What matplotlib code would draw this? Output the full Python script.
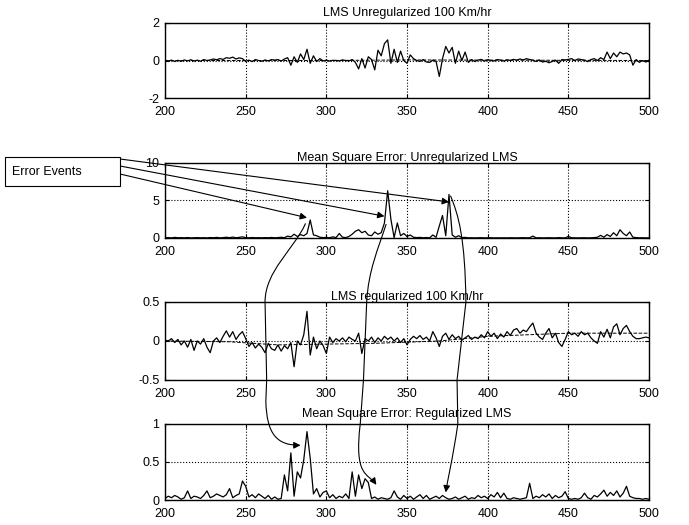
import numpy as np
import matplotlib
matplotlib.use('Agg')
from matplotlib import pyplot as plt
from matplotlib.path import Path
from matplotlib.patches import FancyArrowPatch, Rectangle
from matplotlib.ticker import FormatStrFormatter

plt.rcParams['font.family'] = ['Liberation Sans', 'DejaVu Sans']
plt.rcParams['font.size'] = 9
plt.rcParams['axes.unicode_minus'] = False

# sample index, every second step from 200 to 500
n = np.arange(200, 501, 2)

lms_unreg = [
    0.0, -0.03, 0.02, -0.05, 0.01,
    -0.04, 0.03, -0.02, 0.04, -0.03,
    0.02, -0.04, 0.05, 0.0, 0.03,
    0.08, 0.04, 0.1, 0.06, 0.15,
    0.12, 0.18, 0.08, 0.14, 0.1,
    -0.05, 0.02, -0.06, 0.05, 0.0,
    -0.04, 0.03, -0.02, 0.05, 0.02,
    0.05, -0.03, 0.08, 0.15, -0.25,
    0.2, -0.1, 0.35, 0.05, 0.6,
    -0.15, 0.25, -0.05, 0.1, -0.02,
    0.02, -0.03, 0.01, 0.0, -0.02,
    0.03, 0.0, -0.02, 0.05, -0.1,
    -0.45, 0.1, -0.4, 0.2, 0.05,
    -0.5, 0.55, 0.25, 0.9, 1.1,
    -0.15, 0.6, -0.1, 0.5, 0.0,
    -0.15, 0.3, 0.1, 0.0, -0.05,
    0.05, -0.08, -0.1, 0.02, -0.05,
    -0.85, 0.1, 0.75, 0.4, 0.7,
    -0.15, 0.5, 0.0, 0.45, -0.1,
    0.05, -0.05, 0.02, 0.06, -0.03,
    0.04, 0.0, -0.02, 0.05, 0.02,
    -0.03, 0.04, 0.0, 0.06, 0.02,
    0.08, 0.03, 0.1, 0.05, 0.02,
    -0.05, 0.03, -0.08, -0.04, -0.12,
    -0.05, 0.02, -0.15, 0.05, 0.03,
    0.06, 0.1, 0.0, 0.08, 0.05,
    0.02, -0.06, 0.05, 0.1, 0.0,
    0.15, 0.05, 0.45, 0.1, 0.4,
    0.2, 0.45, 0.35, 0.4, 0.3,
    -0.25, 0.05, -0.1, 0.0, -0.08,
    0.02,
]

mse_unreg = [
    0.02, 0.05, 0.01, 0.08, 0.03,
    0.04, 0.02, 0.06, 0.01, 0.03,
    0.05, 0.02, 0.04, 0.01, 0.06,
    0.03, 0.08, 0.02, 0.05, 0.1,
    0.04, 0.12, 0.03, 0.08, 0.15,
    0.05, 0.02, 0.06, 0.03, 0.04,
    0.02, 0.05, 0.03, 0.07, 0.02,
    0.05, 0.1, 0.03, 0.25, 0.15,
    0.5, 0.2, 0.45, 0.3, 0.6,
    2.4, 0.4, 0.3, 0.1, 0.05,
    0.08, 0.03, 0.15, 0.05, 0.6,
    0.1, 0.05, 0.2, 0.5, 0.9,
    1.1, 0.7, 0.9, 0.4, 0.3,
    0.8, 0.5, 0.7, 2.0, 6.3,
    2.5, 0.05, 2.0, 0.3, 0.6,
    0.2, 0.4, 0.1, 0.05, 0.08,
    0.03, 0.06, 0.02, 0.4, 0.1,
    1.6, 3.0, 0.3, 5.8, 0.4,
    0.1, 0.3, 0.05, 0.08, 0.02,
    0.03, 0.01, 0.02, 0.04, 0.01,
    0.02, 0.03, 0.01, 0.02, 0.01,
    0.02, 0.01, 0.03, 0.02, 0.01,
    0.02, 0.04, 0.02, 0.03, 0.25,
    0.02, 0.03, 0.01, 0.02, 0.03,
    0.02, 0.01, 0.05, 0.02, 0.01,
    0.2, 0.03, 0.02, 0.01, 0.02,
    0.03, 0.01, 0.02, 0.05, 0.1,
    0.35, 0.1, 0.45, 0.2, 0.7,
    0.3, 1.1, 0.6, 0.3, 0.8,
    0.1, 0.05, 0.02, 0.03, 0.01,
    0.02,
]

lms_reg = [
    0.01, 0.0, 0.03, -0.02, 0.02,
    -0.05, 0.0, -0.08, 0.02, -0.12,
    0.0, -0.04, 0.03, -0.08, -0.15,
    0.0, 0.04, -0.02, 0.06, 0.13,
    0.05, 0.12, 0.02, 0.08, 0.12,
    0.03, -0.07, -0.02, -0.09, -0.04,
    -0.08, -0.15, -0.03, -0.1, -0.12,
    -0.05, -0.13, -0.06, -0.1, -0.02,
    -0.33, 0.0, -0.05, 0.08, 0.38,
    -0.18, 0.05, -0.1, 0.0, -0.06,
    -0.16, 0.05, -0.02, 0.03, 0.0,
    0.04, -0.01, 0.05, 0.02, 0.0,
    0.1, -0.16, 0.03, 0.0, 0.05,
    -0.02, 0.04, 0.0, 0.06, 0.02,
    0.05, 0.0, 0.04, -0.02, 0.03,
    -0.05, 0.02, 0.06, 0.03, 0.07,
    0.02, 0.05, 0.0, 0.12, 0.04,
    -0.07, 0.06, 0.1, 0.02, 0.08,
    0.03, 0.06, 0.01, 0.04, 0.07,
    0.02, 0.05, 0.03, 0.08, 0.04,
    0.12, 0.06, 0.1, 0.03, 0.09,
    0.05, 0.12, 0.07, 0.14, 0.16,
    0.1, 0.14, 0.12, 0.18, 0.23,
    0.1, 0.05, 0.02, 0.1, 0.16,
    0.04, 0.1, -0.02, -0.07, 0.02,
    0.12, 0.08, 0.1, 0.06, 0.12,
    0.08, 0.1, 0.04, 0.0, -0.03,
    0.12, 0.05, 0.15, 0.04, 0.18,
    0.22, 0.08, 0.16, 0.2, 0.12,
    0.06, 0.03, 0.03, 0.04, 0.05,
    0.04,
]

mse_reg = [
    0.02, 0.05, 0.03, 0.06, 0.04,
    0.01, 0.03, 0.12, 0.02, 0.05,
    0.04, 0.02, 0.06, 0.12, 0.03,
    0.05, 0.08, 0.06, 0.04, 0.07,
    0.15, 0.03, 0.06, 0.08, 0.25,
    0.18, 0.04, 0.07, 0.03, 0.08,
    0.05, 0.02, 0.06, 0.01, 0.04,
    0.01, 0.02, 0.33, 0.12, 0.62,
    0.05, 0.37, 0.29, 0.53, 0.9,
    0.55, 0.08, 0.15, 0.04, 0.1,
    0.12, 0.03, 0.07, 0.02, 0.05,
    0.03, 0.08, 0.02, 0.37, 0.05,
    0.33, 0.15, 0.28, 0.23, 0.02,
    0.04, 0.01, 0.03, 0.02, 0.01,
    0.03, 0.12, 0.04, 0.01, 0.06,
    0.02, 0.05, 0.01, 0.04, 0.07,
    0.02, 0.06, 0.01, 0.03, 0.05,
    0.02, 0.06, 0.03, 0.01, 0.02,
    0.04, 0.01, 0.03, 0.05, 0.01,
    0.03, 0.02, 0.06, 0.03, 0.05,
    0.02, 0.07, 0.04, 0.1, 0.03,
    0.09, 0.02, 0.01, 0.03, 0.02,
    0.01, 0.02, 0.03, 0.22, 0.02,
    0.05, 0.03, 0.07, 0.04, 0.08,
    0.02, 0.06, 0.03, 0.05, 0.11,
    0.02, 0.01, 0.02, 0.01, 0.03,
    0.09, 0.03, 0.01, 0.06, 0.04,
    0.08, 0.13, 0.05, 0.1, 0.06,
    0.12, 0.04, 0.09, 0.18, 0.05,
    0.03, 0.02, 0.02, 0.01, 0.02,
    0.01,
]

# dashed reference curves
ref1_n = [200, 300, 350, 400, 500]
ref1 = [0.0, 0.0, 0.03, 0.02, 0.0]
ref3_n = [200, 240, 270, 330, 370, 400, 450, 500]
ref3 = [0.0, -0.01, -0.05, -0.03, 0.0, 0.06, 0.1, 0.1]

titles = ['LMS Unregularized 100 Km/hr',
          'Mean Square Error: Unregularized LMS',
          'LMS regularized 100 Km/hr',
          'Mean Square Error: Regularized LMS']
ylims = [(-2, 2), (0, 10), (-0.5, 0.5), (0, 1)]
yticks = [[-2, 0, 2], [0, 5, 10], [-0.5, 0, 0.5], [0, 0.5, 1]]
title_pads = [5, 1.5, 1.5, 5]

fig = plt.figure(figsize=(6.89, 5.25), dpi=100)
left, width = 0.2395, 0.7025
rects = [(left, 0.8133, width, 0.1429),
         (left, 0.5467, width, 0.1429),
         (left, 0.2762, width, 0.1486),
         (left, 0.0476, width, 0.1448)]
axes = [fig.add_axes(r) for r in rects]
series = [lms_unreg, mse_unreg, lms_reg, mse_reg]

for i, ax in enumerate(axes):
    ax.plot(n, series[i], color='black', lw=0.9)
    if i == 0:
        ax.plot(ref1_n, ref1, color='black', lw=0.7, ls='--')
    if i == 2:
        ax.plot(ref3_n, ref3, color='black', lw=0.7, ls='--')
    ax.set_xlim(200, 500)
    ax.set_ylim(*ylims[i])
    ax.set_xticks(range(200, 501, 50))
    ax.set_yticks(yticks[i])
    ax.yaxis.set_major_formatter(FormatStrFormatter('%g'))
    ax.grid(True, color='black', ls=':', lw=0.8)
    ax.tick_params(direction='in', length=3, top=True, right=True, colors='black')
    ax.tick_params(axis='x', pad=6)
    ax.tick_params(axis='y', pad=4)
    for s in ax.spines.values():
        s.set_linewidth(1.0)
    ax.set_title(titles[i], pad=title_pads[i], fontsize=9)

fig.canvas.draw()


def pt(ax, x, y):
    # data point of one axes -> figure fraction
    disp = ax.transData.transform((x, y))
    return fig.transFigure.inverted().transform(disp)


# "Error Events" label and its straight arrows
box = Rectangle((5 / 689, 1 - 186 / 525), 115 / 689, 29 / 525, transform=fig.transFigure,
                fc='white', ec='black', lw=0.8)
fig.patches.append(box)
fig.text(12 / 689, 1 - 172 / 525, 'Error Events', ha='left', va='center', fontsize=9)
box_right = 120 / 689
starts = [1 - 174 / 525, 1 - 166 / 525, 1 - 159 / 525]
targets = [(288, 2.7), (336, 2.9), (376, 4.8)]
for sy, (tx, ty) in zip(starts, targets):
    axes[1].annotate('', xy=(tx, ty), xycoords='data',
                     xytext=(box_right, sy), textcoords='figure fraction',
                     arrowprops=dict(arrowstyle='-|>', color='black', lw=0.8,
                                     mutation_scale=10, shrinkA=0, shrinkB=0))

a2, a3, a4 = axes[1], axes[2], axes[3]
C4, L2 = Path.CURVE4, Path.LINETO
curves = [
    ([pt(a2, 287, 1.9), pt(a2, 280, -1.5), pt(a3, 262, 0.9), pt(a3, 262, 0.5),
      pt(a3, 263, -0.5), pt(a4, 262.5, 1.3),
      pt(a4, 263, 0.85), pt(a4, 270, 0.72), pt(a4, 284, 0.72)],
     [Path.MOVETO, C4, C4, C4, L2, L2, C4, C4, C4]),
    ([pt(a2, 337, 1.8), pt(a2, 332, -1.5), pt(a3, 326, 0.9), pt(a3, 325, 0.5),
      pt(a3, 323, -0.5), pt(a4, 321, 1.0),
      pt(a4, 317, 0.3), pt(a4, 326, 0.35), pt(a4, 331, 0.2)],
     [Path.MOVETO, C4, C4, C4, L2, L2, C4, C4, C4]),
    ([pt(a2, 377, 5.6), pt(a2, 382, 3.0), pt(a2, 386, 0.0), pt(a3, 386.5, 0.5),
      pt(a3, 381, -0.5), pt(a4, 381.5, 1.0),
      pt(a4, 378, 0.5), pt(a4, 375, 0.25), pt(a4, 374, 0.1)],
     [Path.MOVETO, C4, C4, C4, L2, L2, C4, C4, C4]),
]
for verts, codes in curves:
    arrow = FancyArrowPatch(path=Path(verts, codes), transform=fig.transFigure,
                            arrowstyle='-|>', mutation_scale=10, color='black', lw=0.8)
    fig.patches.append(arrow)

fig.savefig('out.png', dpi=100)
